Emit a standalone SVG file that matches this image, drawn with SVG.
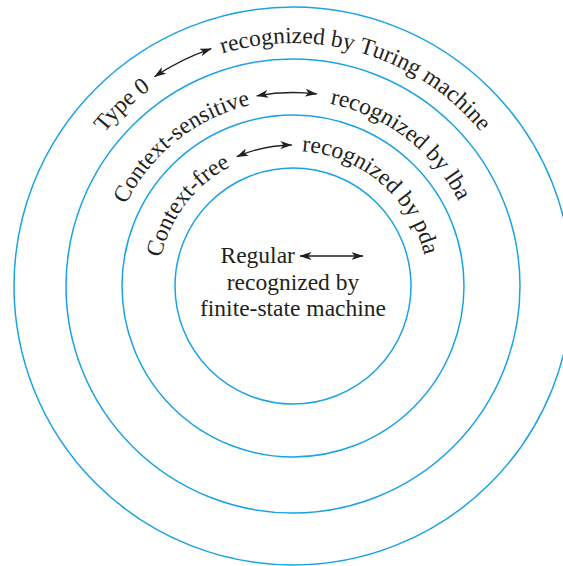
<svg xmlns="http://www.w3.org/2000/svg" xmlns:xlink="http://www.w3.org/1999/xlink" width="563" height="566" viewBox="0 0 563 566">
<style>
.ring{fill:none;stroke:#1aa3e2;stroke-width:1.5}
.lbl{font-family:"Liberation Serif","Times New Roman",serif;font-size:23.5px;fill:#231f20}
.arr{fill:none;stroke:#231f20;stroke-width:1.3;marker-start:url(#ah);marker-end:url(#ah)}
</style>
<defs>
<marker id="ah" viewBox="0 0 12 8" refX="11.5" refY="4" markerWidth="12" markerHeight="8" markerUnits="userSpaceOnUse" orient="auto-start-reverse">
<path d="M0,0 L12,4 L0,8 L3.2,4 Z" fill="#231f20"/>
</marker>
<path id="p1" d="M 50,286 A 243 243 0 0 1 536,286"/>
<path id="p2" d="M 107,286 A 186 186 0 0 1 479,286"/>
<path id="p3" d="M 158,286 A 135 135 0 0 1 428,286"/>
</defs>
<rect width="563" height="566" fill="#ffffff"/>
<g id="type0">
<circle class="ring" cx="293" cy="286" r="279"/>
<text class="lbl"><textPath xlink:href="#p1" href="#p1" startOffset="165.4">Type 0</textPath></text>
<text class="lbl"><textPath xlink:href="#p1" href="#p1" startOffset="309.6">recognized by Turing machine</textPath></text>
</g>
<g id="context-sensitive">
<circle class="ring" cx="293" cy="286" r="227"/>
<text class="lbl"><textPath xlink:href="#p2" href="#p2" startOffset="84.4">Context-sensitive</textPath></text>
<text class="lbl"><textPath xlink:href="#p2" href="#p2" startOffset="329.2">recognized by lba</textPath></text>
</g>
<g id="context-free">
<circle class="ring" cx="293" cy="286" r="171"/>
<text class="lbl"><textPath xlink:href="#p3" href="#p3" startOffset="28.3">Context-free</textPath></text>
<text class="lbl"><textPath xlink:href="#p3" href="#p3" startOffset="220.8">recognized by pda</textPath></text>
</g>
<g id="regular">
<circle class="ring" cx="293" cy="286" r="118"/>
<text class="lbl" x="220.5" y="263">Regular</text>
<text class="lbl" x="293" y="290" text-anchor="middle">recognized by</text>
<text class="lbl" x="293" y="316" text-anchor="middle">finite-state machine</text>
</g>
<g id="connectors">
<path class="arr" d="M 154.5,76.7 A 251 251 0 0 1 211.3,48.7"/>
<path class="arr" d="M 256.7,95.9 A 193.5 193.5 0 0 1 316.7,94.0"/>
<path class="arr" d="M 236.8,156.7 A 141 141 0 0 1 291.8,145"/>
<path class="arr" d="M 300,256 L 363,256"/>
</g>
</svg>
